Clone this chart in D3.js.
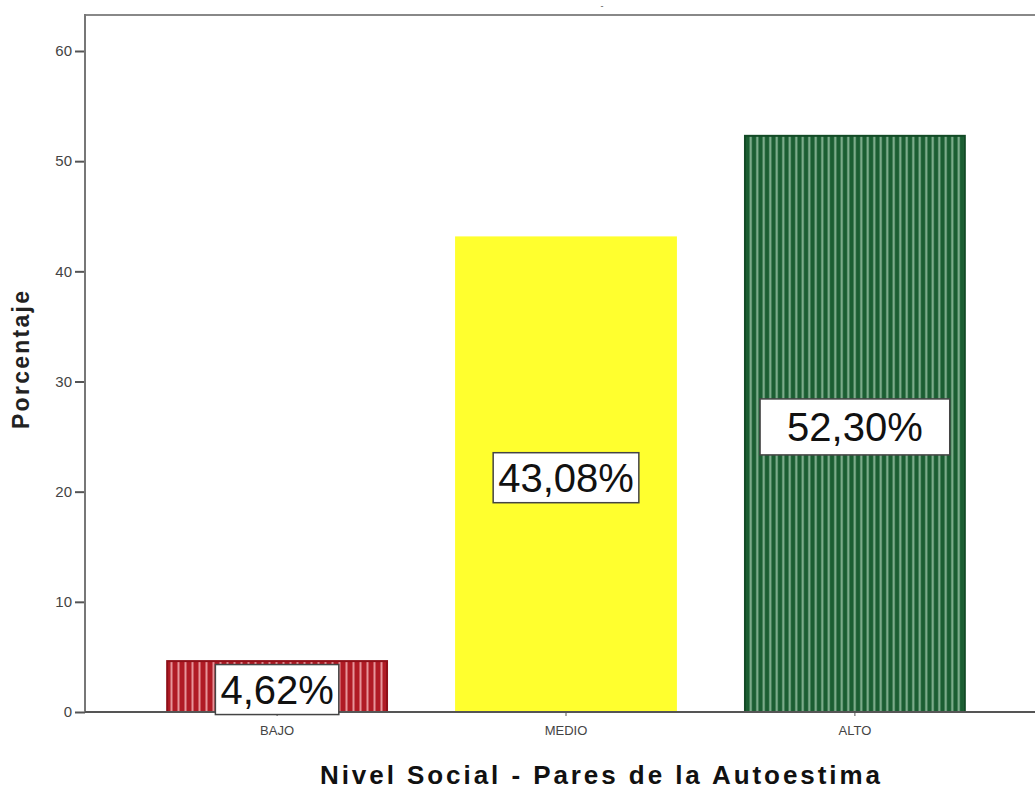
<!doctype html>
<html lang="es">
<head>
<meta charset="utf-8">
<title>Nivel Social - Pares de la Autoestima</title>
<script src="https://cdn.jsdelivr.net/npm/d3@7/dist/d3.min.js"></script>
<style>
  body { margin: 0; background: #fff; }
  svg { display: block; font-family: "Liberation Sans", Arial, sans-serif; }
</style>
</head>
<body>
<div id="viz"></div>
<script>
// DATA
var categories = ["BAJO", "MEDIO", "ALTO"];
var percents = [4.62, 43.08, 52.30];
var labels = ["4,62%", "43,08%", "52,30%"];
var yTicks = [0, 10, 20, 30, 40, 50, 60];

(function () {
  // Dimensions
  var w = 1035, h = 791;
  var left = 85, topY = 15, right = 1035, bottom = 712;

  var svg = d3.select("#viz").append("svg")
    .attr("width", w)
    .attr("height", h);

  var defs = svg.append("defs");
  // vertical stripe patterns
  function stripes(id, bg, fg, size) {
    var p = defs.append("pattern")
      .attr("id", id)
      .attr("patternUnits", "userSpaceOnUse")
      .attr("width", size).attr("height", 10);
    p.append("rect").attr("width", size).attr("height", 10).attr("fill", bg);
    p.append("rect").attr("x", size / 2 - 1).attr("width", 2).attr("height", 10).attr("fill", fg);
  }
  stripes("redStripe", "#b01b25", "#e7959a", 7);
  stripes("greenStripe", "#1b5e32", "#88b595", 6.5);

  var fills = ["url(#redStripe)", "#ffff2e", "url(#greenStripe)"];
  var strokes = ["#8e0f18", "#ffff2e", "#134a26"];
  var padX = [5, 5, 27];
  var padY = [10, 10, 16];

  var y = d3.scaleLinear().domain([0, 60]).range([bottom, 51]);
  var x = d3.scaleBand().domain(categories)
    .range([132.5, 999.5]).paddingInner(0.239).paddingOuter(0.12);

  // frame
  svg.append("line").attr("x1", left - 1).attr("x2", right).attr("y1", topY).attr("y2", topY)
    .attr("stroke", "#888").attr("stroke-width", 2);
  svg.append("text").attr("x", 602).attr("y", 9).attr("font-size", 9).attr("fill", "#555")
    .attr("text-anchor", "middle").text("-");

  // bars
  svg.append("g").selectAll("rect.bar").data(percents).enter().append("rect")
    .attr("class", "bar")
    .attr("x", function (d, i) { return x(categories[i]); })
    .attr("width", x.bandwidth())
    .attr("y", function (d) { return y(d); })
    .attr("height", function (d) { return y(0) - y(d); })
    .attr("fill", function (d, i) { return fills[i]; })
    .attr("stroke", function (d, i) { return strokes[i]; })
    .attr("stroke-width", 2);

  // axes
  var yAxis = svg.append("g")
    .attr("transform", "translate(" + left + ",0)")
    .call(d3.axisLeft(y).tickValues(yTicks).tickSize(10).tickPadding(3));
  yAxis.select(".domain").remove();
  yAxis.selectAll(".tick line").attr("stroke", "#555").attr("stroke-width", 2);
  yAxis.selectAll(".tick text").attr("font-size", 15).attr("fill", "#444")
    .attr("font-family", "Liberation Sans, Arial, sans-serif");

  svg.append("line").attr("x1", left).attr("x2", left).attr("y1", topY - 1).attr("y2", bottom)
    .attr("stroke", "#777").attr("stroke-width", 2);
  svg.append("line").attr("x1", left).attr("x2", right).attr("y1", bottom).attr("y2", bottom)
    .attr("stroke", "#555").attr("stroke-width", 2);

  var xAxis = svg.append("g")
    .attr("transform", "translate(0," + bottom + ")")
    .call(d3.axisBottom(x).tickSize(4).tickPadding(10));
  xAxis.select(".domain").remove();
  xAxis.selectAll(".tick line").attr("stroke", "#555");
  xAxis.selectAll(".tick text").attr("font-size", 13).attr("fill", "#444")
    .attr("font-family", "Liberation Sans, Arial, sans-serif");

  // value labels
  var lab = svg.append("g").selectAll("g").data(percents).enter().append("g")
    .attr("transform", function (d, i) {
      return "translate(" + (x(categories[i]) + x.bandwidth() / 2) + "," + ((y(d) + y(0)) / 2 + 3) + ")";
    });
  lab.each(function (d, i) {
    var el = d3.select(this);
    var rect = el.append("rect").attr("fill", "#fff").attr("stroke", "#444").attr("stroke-width", 1.5);
    var t = el.append("text").attr("text-anchor", "middle").attr("dy", "0.36em")
      .attr("font-size", 40).attr("fill", "#111").text(labels[i]);
    var bb = t.node().getBBox();
    var bw = bb.width + 2 * padX[i], bh = 40 + padY[i];
    rect.attr("x", -bw / 2).attr("y", -bh / 2).attr("width", bw).attr("height", bh);
  });

  // titles
  svg.append("text")
    .attr("transform", "translate(29,360) rotate(-90)")
    .attr("text-anchor", "middle")
    .attr("font-size", 23).attr("font-weight", "bold").attr("fill", "#222")
    .attr("textLength", 138).attr("lengthAdjust", "spacing")
    .text("Porcentaje");

  svg.append("text")
    .attr("x", 600).attr("y", 784)
    .attr("text-anchor", "middle")
    .attr("font-size", 26).attr("font-weight", "bold").attr("fill", "#111")
    .attr("textLength", 560).attr("lengthAdjust", "spacing")
    .text("Nivel Social - Pares de la Autoestima");
})();
</script>
</body>
</html>
